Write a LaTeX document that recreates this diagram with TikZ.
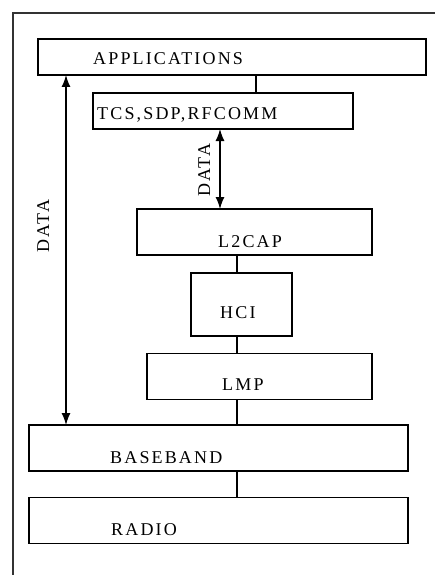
\documentclass[tikz,border=0pt]{standalone}
\usepackage{fontspec}
\setmainfont[LetterSpace=12]{Liberation Serif}
\usetikzlibrary{arrows.meta}
\begin{document}
\begin{tikzpicture}[x=1pt,y=-1pt,
  box/.style={draw,line width=1.3pt,inner sep=0pt,outer sep=0pt},
  lbl/.style={anchor=base west,inner sep=0pt,font=\fontsize{18}{20}\selectfont},
  conn/.style={line width=1.3pt},
  dataarrow/.style={line width=1.3pt,{Latex[length=12pt,width=9pt]}-{Latex[length=12pt,width=9pt]}}]
\useasboundingbox (0,0) rectangle (434,575);
% outer frame (clipped at right and bottom)
\draw[line width=1.5pt,black!80] (13,580) -- (13,13) -- (440,13);
% boxes
\node[box,minimum width=388,minimum height=36] (app) at (232,57) {};
\node[box,minimum width=260,minimum height=36] (tcs) at (223,111) {};
\node[box,minimum width=235,minimum height=46] (l2cap) at (254.5,232) {};
\node[box,minimum width=101,minimum height=63] (hci) at (241.5,304.5) {};
\node[box,minimum width=225,minimum height=46] (lmp) at (259.5,376.5) {};
\node[box,minimum width=379,minimum height=46] (bb) at (218.5,448) {};
\node[box,minimum width=379,minimum height=46] (radio) at (218.5,520.5) {};
% labels
\node[lbl] (tapp) at (93,65) {APPLICATIONS};
\node[lbl] (ttcs) at (97,120) {TCS,SDP,RFCOMM};
\node[lbl] (tl2) at (218,247) {L2CAP};
\node[lbl] (thci) at (220,318) {HCI};
\node[lbl] (tlmp) at (222,390) {LMP};
\node[lbl] (tbb) at (110,463) {BASEBAND};
\node[lbl] (trad) at (111,535) {RADIO};
% guide coordinates
\coordinate (xa) at (256,0);
\coordinate (xs) at (237,0);
\coordinate (xd) at (220,0);
\coordinate (xb) at (66,0);
% connectors
\draw[conn] (app.south -| xa) -- (tcs.north -| xa);
\draw[conn] (l2cap.south -| xs) -- (hci.north -| xs);
\draw[conn] (hci.south -| xs) -- (lmp.north -| xs);
\draw[conn] (lmp.south -| xs) -- (bb.north -| xs);
\draw[conn] (bb.south -| xs) -- (radio.north -| xs);
% data arrows
\draw[dataarrow] (tcs.south -| xd) -- (l2cap.north -| xd);
\draw[dataarrow] (app.south -| xb) -- (bb.north -| xb);
\node[lbl,rotate=90] (dsmall) at (210,197) {DATA};
\node[lbl,rotate=90] (dbig) at (49,253) {DATA};
\end{tikzpicture}
\end{document}
